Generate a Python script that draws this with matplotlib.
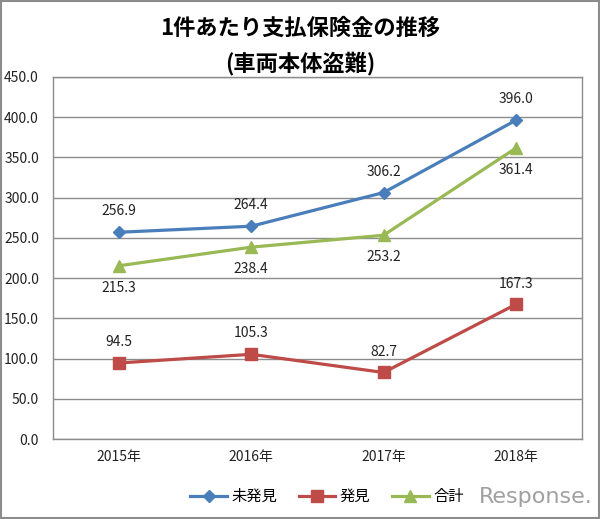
import matplotlib.pyplot as plt
from matplotlib.patches import Rectangle

plt.rcParams['font.family'] = ['Noto Sans CJK JP', 'DejaVu Sans']

# データ
years = ['2015年', '2016年', '2017年', '2018年']
mihakken = [256.9, 264.4, 306.2, 396.0]
hakken = [94.5, 105.3, 82.7, 167.3]
goukei = [215.3, 238.4, 253.2, 361.4]

fig = plt.figure(figsize=(6, 5.19), dpi=100)
ax = fig.add_axes([0.088, 0.154, 0.882, 0.698])

x = range(len(years))
ax.plot(x, mihakken, color='#4a7ebb', lw=2.3, marker='D', ms=6.5, label='未発見')
ax.plot(x, hakken, color='#be4b48', lw=2.3, marker='s', ms=8, label='発見')
ax.plot(x, goukei, color='#98b954', lw=2.3, marker='^', ms=8.5, label='合計')

# データラベル（未発見・発見は上、合計は下）
for i, v in enumerate(mihakken):
    ax.annotate(f'{v:.1f}', (i, v), xytext=(0, 15), textcoords='offset points',
                ha='center', va='center', fontsize=10, color='#222222')
for i, v in enumerate(hakken):
    ax.annotate(f'{v:.1f}', (i, v), xytext=(0, 15), textcoords='offset points',
                ha='center', va='center', fontsize=10, color='#222222')
for i, v in enumerate(goukei):
    ax.annotate(f'{v:.1f}', (i, v), xytext=(0, -16), textcoords='offset points',
                ha='center', va='center', fontsize=10, color='#222222')

ax.set_xlim(-0.5, 3.5)
ax.set_ylim(0, 450)
ax.set_yticks(range(0, 451, 50))
ax.set_yticklabels([f'{t:.1f}' for t in range(0, 451, 50)])
ax.set_xticks(list(x))
ax.set_xticklabels(years)
ax.tick_params(length=0, labelsize=10, colors='#222222', pad=8)
ax.tick_params(axis='y', pad=10)
ax.grid(axis='y', color='#8c8c8c', lw=1)
ax.set_axisbelow(True)
for s in ax.spines.values():
    s.set_color('#8c8c8c')
    s.set_linewidth(1)

fig.text(0.5, 0.945, '1件あたり支払保険金の推移', ha='center', va='center',
         fontsize=16, fontweight='bold')
fig.text(0.5, 0.878, '(車両本体盗難)', ha='center', va='center',
         fontsize=16, fontweight='bold')

fig.legend(loc='center', bbox_to_anchor=(0.545, 0.043), ncol=3, frameon=False,
           fontsize=11, handlelength=2.4, columnspacing=1.4, handletextpad=0.3)

fig.text(0.987, 0.043, 'Response.', ha='right', va='center', fontsize=16,
         color='#a0a0a0', family='DejaVu Sans')

fig.patches.append(Rectangle((0.002, 0.002), 0.996, 0.996, transform=fig.transFigure,
                             fill=False, ec='#8c8c8c', lw=1.5))

plt.savefig('out.png', dpi=100)
